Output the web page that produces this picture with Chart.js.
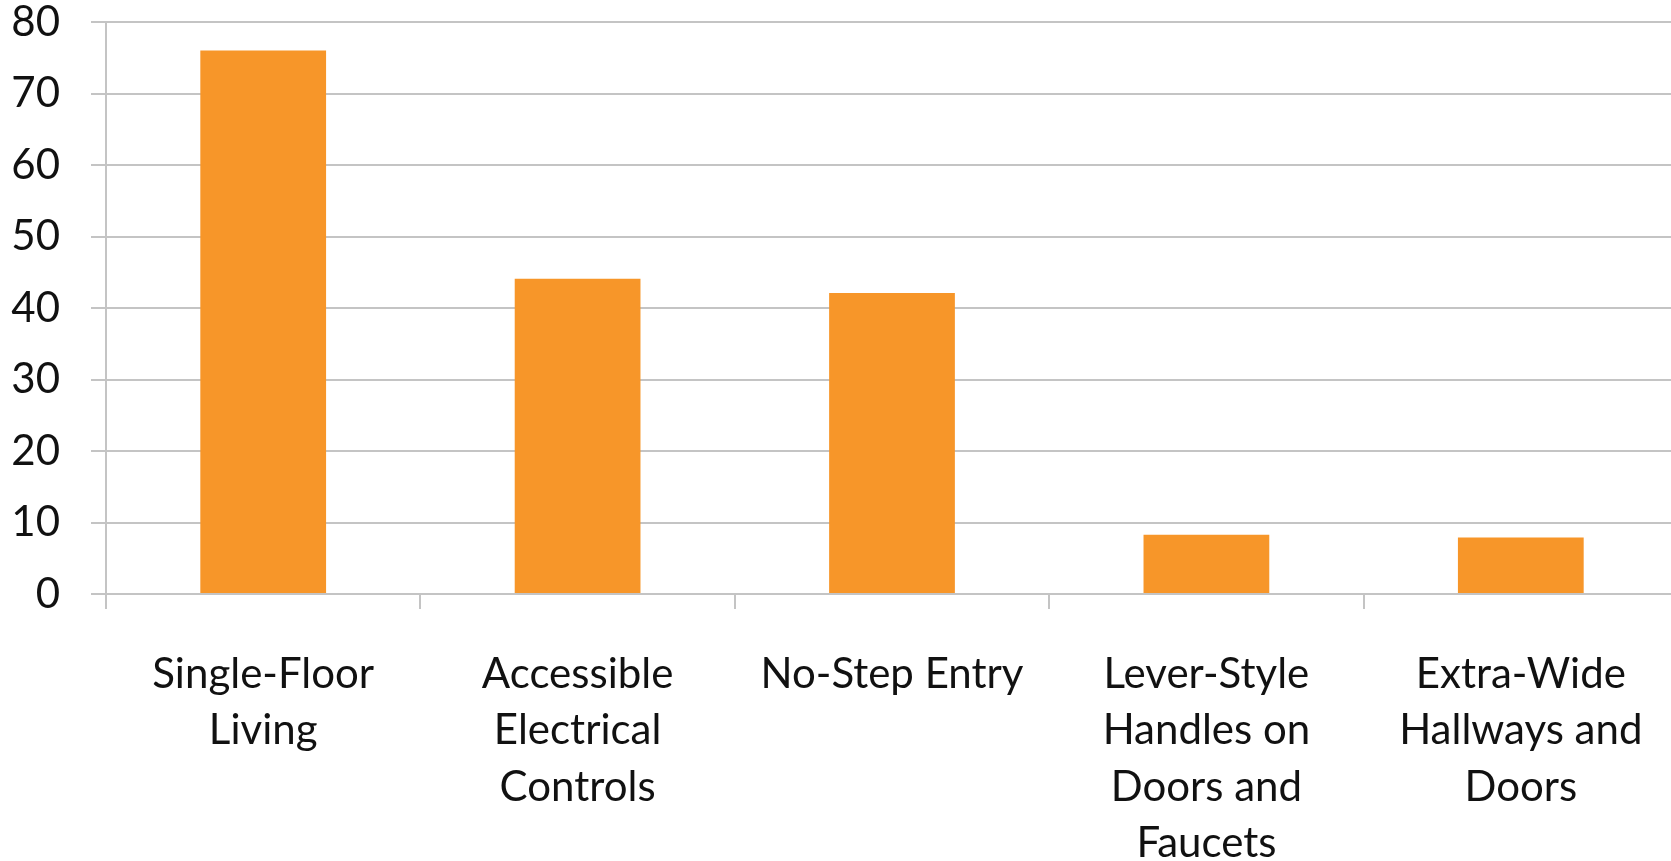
<!DOCTYPE html>
<html>
<head>
<meta charset="utf-8">
<script src="https://cdn.jsdelivr.net/npm/chart.js@4/dist/chart.umd.min.js"></script>
<style>
  html, body { margin: 0; padding: 0; background: #fff; overflow: hidden; }
  #wrap { width: 1680px; height: 861px; position: relative; }
</style>
</head>
<body>
<div id="wrap"><canvas id="featuresChart"></canvas></div>
<script>
// Chart data
const categories = [
  ['Single-Floor', 'Living'],
  ['Accessible', 'Electrical', 'Controls'],
  ['No-Step Entry'],
  ['Lever-Style', 'Handles on', 'Doors and', 'Faucets'],
  ['Extra-Wide', 'Hallways and', 'Doors']
];
const values = [76, 44.1, 42.1, 8.3, 7.9];
const yTicks = [0, 10, 20, 30, 40, 50, 60, 70, 80];

const barColor = '#F79629';
const gridColor = '#c4c4c4';
const textColor = '#111111';
const fontFamily = 'Lato, "Open Sans", sans-serif';

const ctx = document.getElementById('featuresChart').getContext('2d');
const featuresChart = new Chart(ctx, {
  type: 'bar',
  data: {
    labels: categories,
    datasets: [{
      data: values,
      backgroundColor: barColor,
      borderWidth: 0,
      barPercentage: 0.4,
      categoryPercentage: 1
    }]
  },
  options: {
    responsive: true,
    maintainAspectRatio: false,
    animation: false,
    layout: {
      padding: { top: 22, right: 2, bottom: 0, left: 0 }
    },
    plugins: {
      legend: { display: false },
      tooltip: { enabled: false }
    },
    scales: {
      x: {
        afterFit: (scale) => { scale.height = 267; },
        grid: {
          offset: true,
          drawOnChartArea: false,
          drawTicks: true,
          tickLength: 15,
          color: gridColor,
          lineWidth: 2
        },
        border: { display: true, color: gridColor, width: 2 },
        ticks: {
          color: textColor,
          padding: 37,
          maxRotation: 0,
          autoSkip: false,
          font: { family: fontFamily, size: 42, lineHeight: 1.345 }
        }
      },
      y: {
        min: 0,
        max: 80,
        afterFit: (scale) => {
          scale.width = 106;
          // keep the tick padding from pushing the plot area down
          scale.paddingTop = 0;
          scale.paddingBottom = 0;
        },
        afterBuildTicks: (scale) => { scale.ticks = yTicks.map(v => ({ value: v })); },
        grid: {
          color: gridColor,
          lineWidth: 2,
          tickLength: 15
        },
        border: { display: true, color: gridColor, width: 2 },
        ticks: {
          color: textColor,
          padding: 31,
          font: { family: fontFamily, size: 42 }
        }
      }
    }
  }
});
</script>
</body>
</html>
